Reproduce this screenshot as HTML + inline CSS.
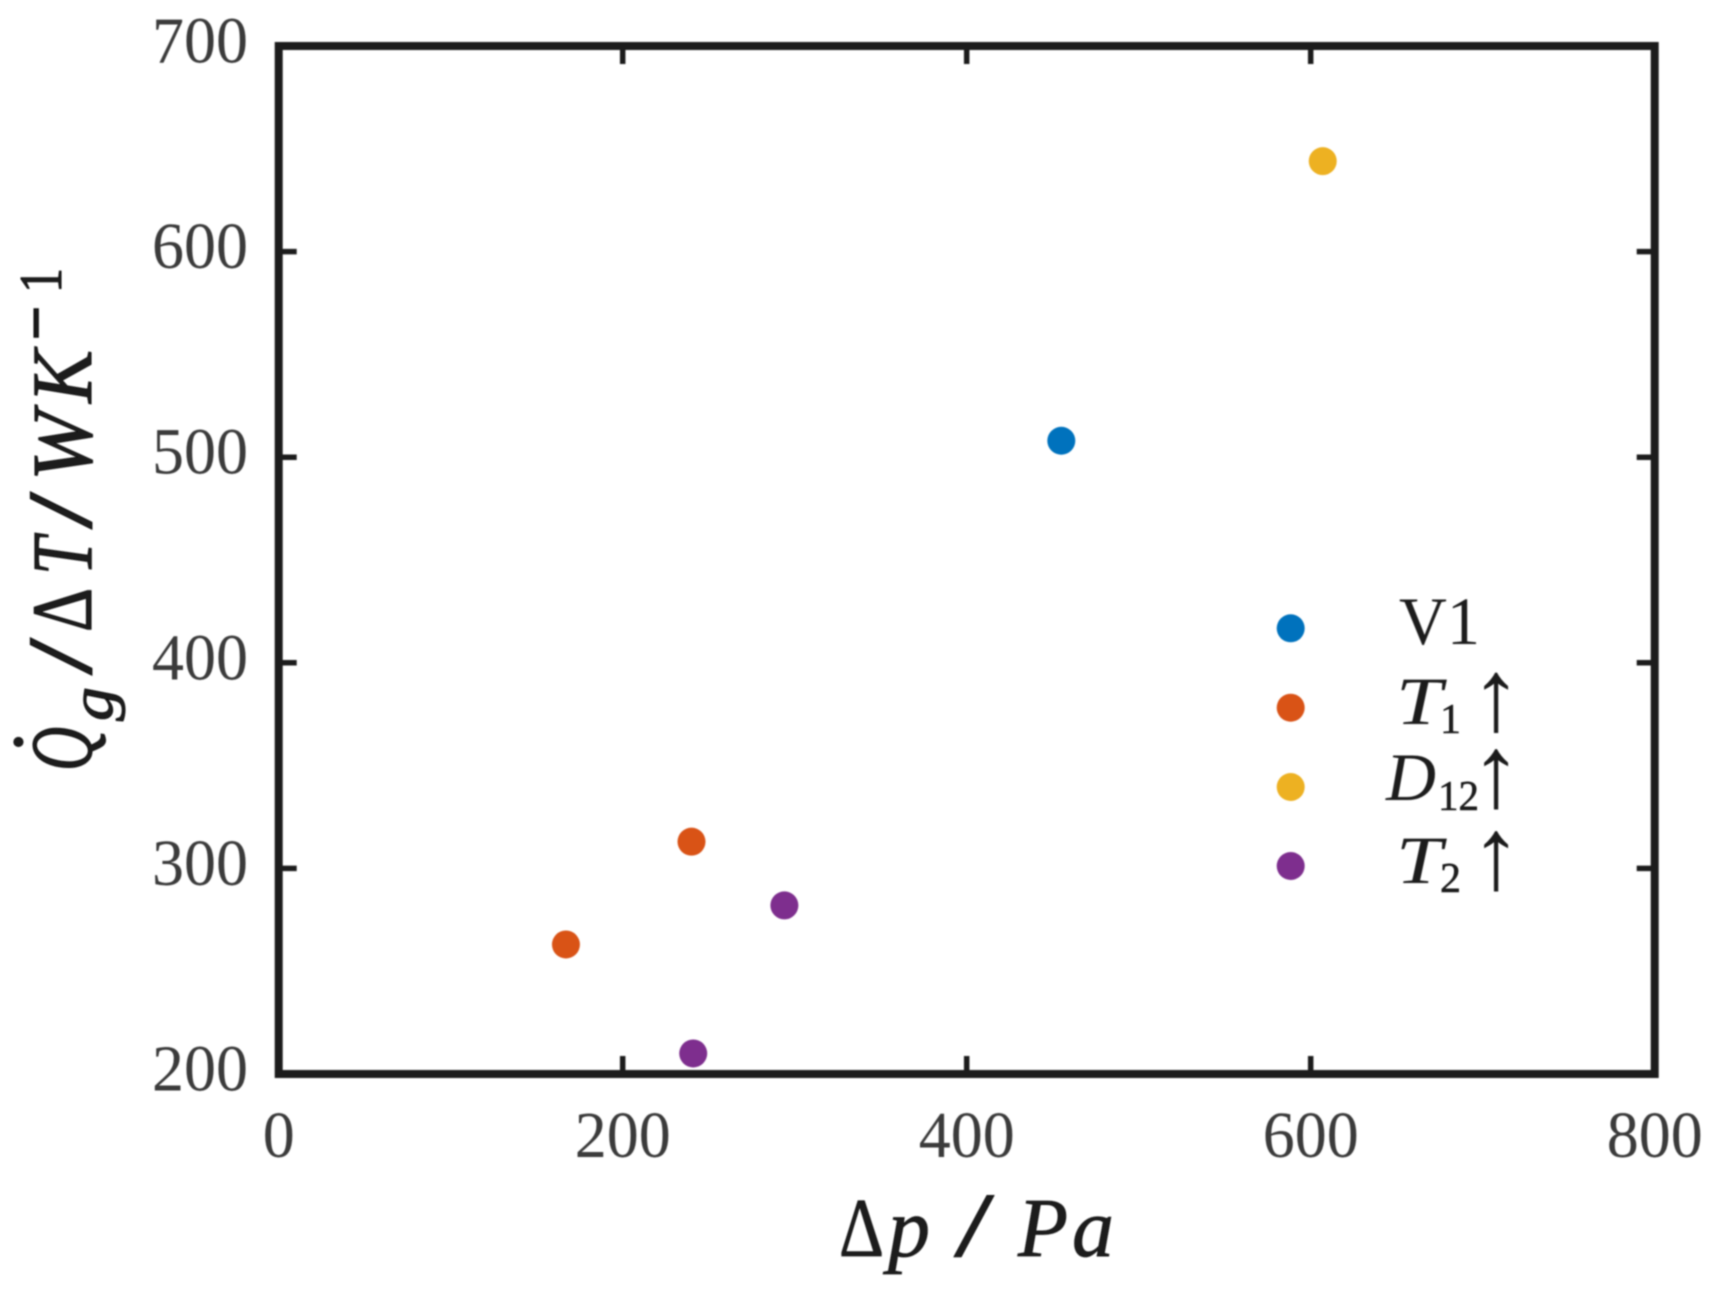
<!DOCTYPE html>
<html lang="en">
<head>
<meta charset="utf-8">
<title>Heat transfer vs pressure drop</title>
<style>
html,body{margin:0;padding:0;background:#fff;width:1714px;height:1297px;overflow:hidden}
svg{display:block;font-family:"Liberation Serif",serif}
text{fill:#1c1c1c}
</style>
</head>
<body>
<svg id="chart" xmlns="http://www.w3.org/2000/svg" width="1714" height="1297" viewBox="0 0 1714 1297">
  <defs><filter id="soft" x="-5%" y="-5%" width="110%" height="110%"><feGaussianBlur stdDeviation="0.8"/></filter></defs>
  <g id="root" filter="url(#soft)">
    <g id="ticks"></g>
    <rect x="278.7" y="46" width="1376" height="1028" fill="none" stroke="#1f1f1f" stroke-width="8"/>
    <g id="tick-labels"></g>
    <g id="points"></g>

    <g font-size="84" stroke="#111" stroke-width="0.7">
      <text x="839" y="1256" textLength="45" lengthAdjust="spacingAndGlyphs">Δ</text>
      <text x="888" y="1256" font-style="italic" textLength="42" lengthAdjust="spacingAndGlyphs">p</text>
      <text x="954" y="1256" textLength="40" lengthAdjust="spacingAndGlyphs" font-size="92">/</text>
      <text x="1018" y="1256" font-style="italic" textLength="50" lengthAdjust="spacingAndGlyphs">P</text>
      <text x="1072" y="1256" font-style="italic" textLength="42" lengthAdjust="spacingAndGlyphs">a</text>
    </g>

    <g font-size="86" stroke="#111" stroke-width="1">
      <text transform="translate(91 771) rotate(-90)" font-style="italic" textLength="44" lengthAdjust="spacingAndGlyphs" font-size="88" >Q</text>
      <text transform="translate(71 742) rotate(-90)" text-anchor="middle" font-size="86">˙</text>
      <text transform="translate(112 721) rotate(-90)" font-style="italic" font-size="60" textLength="34" lengthAdjust="spacingAndGlyphs">g</text>
      <text transform="translate(91 675) rotate(-90)" font-size="92" textLength="37" lengthAdjust="spacingAndGlyphs">/</text>
      <text transform="translate(91 632) rotate(-90)" textLength="44" lengthAdjust="spacingAndGlyphs">Δ</text>
      <text transform="translate(91 575) rotate(-90)" font-style="italic" textLength="38" lengthAdjust="spacingAndGlyphs">T</text>
      <text transform="translate(91 529) rotate(-90)" font-size="92" textLength="37" lengthAdjust="spacingAndGlyphs">/</text>
      <text transform="translate(91 481) rotate(-90)" font-style="italic" textLength="70" lengthAdjust="spacingAndGlyphs">W</text>
      <text transform="translate(91 403) rotate(-90)" font-style="italic" textLength="53" lengthAdjust="spacingAndGlyphs">K</text>
      <text transform="translate(60 340) rotate(-90)" font-size="72" stroke-width="1.8" textLength="34" lengthAdjust="spacingAndGlyphs">−</text>
      <text transform="translate(61 293) rotate(-90)" font-size="60" textLength="25" lengthAdjust="spacingAndGlyphs">1</text>
    </g>

    <g id="legend">
      <g>
        <circle cx="1290.7" cy="628.3" r="14" fill="#0072bd"/>
        <text x="1399" y="644" font-size="68" textLength="81" lengthAdjust="spacingAndGlyphs">V1</text>
      </g>
      <g>
        <circle cx="1290.7" cy="707.7" r="14" fill="#d95319"/>
        <text x="1396" y="724" font-size="68" font-style="italic" textLength="46" lengthAdjust="spacingAndGlyphs">T</text>
        <text x="1440" y="733" font-size="42" stroke="#111" stroke-width="0.5">1</text>
        <text x="1496" y="730" font-size="102" text-anchor="middle">↑</text>
      </g>
      <g>
        <circle cx="1290.7" cy="787" r="14" fill="#edb120"/>
        <text x="1386" y="800" font-size="68" font-style="italic" textLength="50" lengthAdjust="spacingAndGlyphs">D</text>
        <text x="1438" y="810" font-size="42" stroke="#111" stroke-width="0.5" textLength="41" lengthAdjust="spacingAndGlyphs">12</text>
        <text x="1496" y="806.5" font-size="102" text-anchor="middle">↑</text>
      </g>
      <g>
        <circle cx="1290.7" cy="866" r="14" fill="#7e2f8e"/>
        <text x="1396" y="883" font-size="68" font-style="italic" textLength="46" lengthAdjust="spacingAndGlyphs">T</text>
        <text x="1440" y="892" font-size="42" stroke="#111" stroke-width="0.5">2</text>
        <text x="1496" y="888.5" font-size="102" text-anchor="middle">↑</text>
      </g>
    </g>
  </g>
</svg>
<script>
const xTickValues = [0, 200, 400, 600, 800];
const yTickValues = [200, 300, 400, 500, 600, 700];
const xTickLabels = ['0', '200', '400', '600', '800'];
const yTickLabels = ['200', '300', '400', '500', '600', '700'];
const v1X = [455];
const v1Y = [508];
const t1X = [240, 167];
const t1Y = [313, 263];
const d12X = [607];
const d12Y = [644];
const t2X = [294, 241];
const t2Y = [282, 210];

const NS = 'http://www.w3.org/2000/svg';
const plot = {left: 278.7, right: 1654.7, top: 46, bottom: 1074};
const xDomain = [0, 800];
const yDomain = [200, 700];
function xScale(v) {
  return plot.left + (v - xDomain[0]) / (xDomain[1] - xDomain[0]) * (plot.right - plot.left);
}
function yScale(v) {
  return plot.bottom - (v - yDomain[0]) / (yDomain[1] - yDomain[0]) * (plot.bottom - plot.top);
}
function line(parent, x1, y1, x2, y2, name) {
  const el = document.createElementNS(NS, 'line');
  el.setAttribute('x1', x1);
  el.setAttribute('y1', y1);
  el.setAttribute('x2', x2);
  el.setAttribute('y2', y2);
  el.setAttribute('stroke', '#1f1f1f');
  el.setAttribute('stroke-width', '5.5');
  
  
  parent.appendChild(el);
}
function label(parent, x, y, str, anchor, name) {
  const el = document.createElementNS(NS, 'text');
  el.setAttribute('x', x);
  el.setAttribute('y', y);
  el.setAttribute('font-size', '66');
  el.setAttribute('text-anchor', anchor);
  el.setAttribute('textLength', 32 * str.length);
  el.setAttribute('lengthAdjust', 'spacingAndGlyphs');
  el.setAttribute('style', 'fill:#3a3a3a');
  
  
  el.textContent = str;
  parent.appendChild(el);
}
const tickGroup = document.getElementById('ticks');
const labelGroup = document.getElementById('tick-labels');
const tickLen = 18;
xTickValues.forEach(function (v, i) {
  const x = xScale(v);
  line(tickGroup, x, plot.bottom, x, plot.bottom - tickLen, 'x-tick-bottom-' + v);
  line(tickGroup, x, plot.top, x, plot.top + tickLen, 'x-tick-top-' + v);
  label(labelGroup, x, plot.bottom + 83, xTickLabels[i], 'middle', 'x-tick-label-' + v);
});
yTickValues.forEach(function (v, i) {
  const y = yScale(v);
  line(tickGroup, plot.left, y, plot.left + tickLen, y, 'y-tick-left-' + v);
  line(tickGroup, plot.right, y, plot.right - tickLen, y, 'y-tick-right-' + v);
  label(labelGroup, 248, y + 16.5, yTickLabels[i], 'end', 'y-tick-label-' + v);
});
const pointGroup = document.getElementById('points');
function drawSeries(xs, ys, color, name) {
  xs.forEach(function (xv, i) {
    const c = document.createElementNS(NS, 'circle');
    c.setAttribute('cx', xScale(xv));
    c.setAttribute('cy', yScale(ys[i]));
    c.setAttribute('r', '14');
    c.setAttribute('fill', color);
    
    
    pointGroup.appendChild(c);
  });
}
drawSeries(v1X, v1Y, '#0072bd', 'v1');
drawSeries(t1X, t1Y, '#d95319', 't1');
drawSeries(d12X, d12Y, '#edb120', 'd12');
drawSeries(t2X, t2Y, '#7e2f8e', 't2');
</script>
</body>
</html>
